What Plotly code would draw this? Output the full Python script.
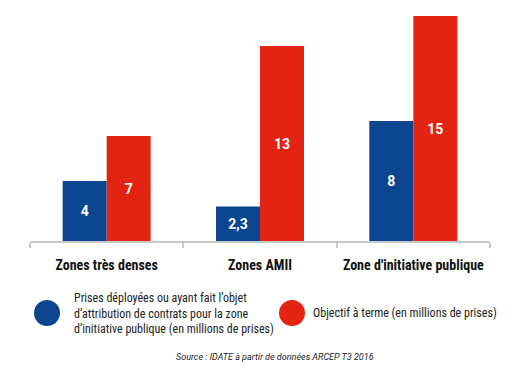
import plotly.graph_objects as go

categories = ["Zones très denses", "Zones AMII", "Zone d'initiative publique"]
deployed = [4, 2.3, 8]
objective = [7, 13, 15]
deployed_labels = ["4", "2,3", "8"]
objective_labels = ["7", "13", "15"]
legend_deployed = "Prises déployées ou ayant fait l’objet<br>d’attribution de contrats pour la zone<br>d’initiative publique (en millions de prises)"
legend_objective = "Objectif à terme (en millions de prises)"
source = "Source : IDATE à partir de données ARCEP T3 2016"

BLUE = "#0B4590"
RED = "#E42313"
COND = "Roboto Condensed, Liberation Sans Narrow, DejaVu Sans Condensed, Roboto, sans-serif"

fig = go.Figure()
fig.add_trace(go.Bar(x=categories, y=deployed, text=deployed_labels, name="deployed",
                     marker=dict(color=BLUE, line=dict(width=0)),
                     textposition="inside", insidetextanchor="middle",
                     textfont=dict(color="white", size=14, family="Roboto", weight="bold"),
                     textangle=0))
fig.add_trace(go.Bar(x=categories, y=objective, text=objective_labels, name="objective",
                     marker=dict(color=RED, line=dict(width=0)),
                     textposition="inside", insidetextanchor="middle",
                     textfont=dict(color="white", size=14, family="Roboto", weight="bold"),
                     textangle=0))

# page body has an 8px margin, so the figure is 8px smaller and offset by 8px
fig.update_layout(
    width=522, height=371,
    margin=dict(l=22, r=40, t=2, b=138, autoexpand=False),
    barmode="group", bargap=0.426, bargroupgap=0,
    showlegend=False,
    plot_bgcolor="white", paper_bgcolor="white",
    xaxis=dict(showline=True, linecolor="#c8c8c8", linewidth=1.5,
               ticks="outside", tickson="boundaries", ticklen=5, tickcolor="#c8c8c8",
               tickwidth=1.5, tickangle=0, automargin=False,
               tickfont=dict(family=COND, size=14, color="#111", weight="bold"),
               ticklabelstandoff=10),
    yaxis=dict(range=[0, 15.4], visible=False),
)

fig.add_shape(type="circle", xref="paper", yref="paper",
              x0=(34 - 30) / 460, x1=(60 - 30) / 460, y0=(241 - 326) / 231, y1=(241 - 300) / 231,
              fillcolor=BLUE, line=dict(width=0))
fig.add_shape(type="circle", xref="paper", yref="paper",
              x0=(279 - 30) / 460, x1=(305 - 30) / 460, y0=(241 - 326) / 231, y1=(241 - 300) / 231,
              fillcolor=RED, line=dict(width=0))
fig.add_annotation(xref="paper", yref="paper", x=(72 - 30) / 460, y=(241 - 313) / 231,
                   xanchor="left", yanchor="middle", align="left", showarrow=False,
                   text=legend_deployed,
                   font=dict(family=COND, size=12, color="#222"))
fig.add_annotation(xref="paper", yref="paper", x=(311 - 30) / 460, y=(241 - 313) / 231,
                   xanchor="left", yanchor="middle", align="left", showarrow=False,
                   text=legend_objective,
                   font=dict(family=COND, size=12, color="#222"))
fig.add_annotation(xref="paper", yref="paper", x=(275 - 30) / 460, y=(241 - 357) / 231,
                   xanchor="center", yanchor="middle", showarrow=False,
                   text="<i>" + source + "</i>",
                   font=dict(family="Roboto, Arial, sans-serif", size=9, color="#222"))

fig.write_html("out.html")
